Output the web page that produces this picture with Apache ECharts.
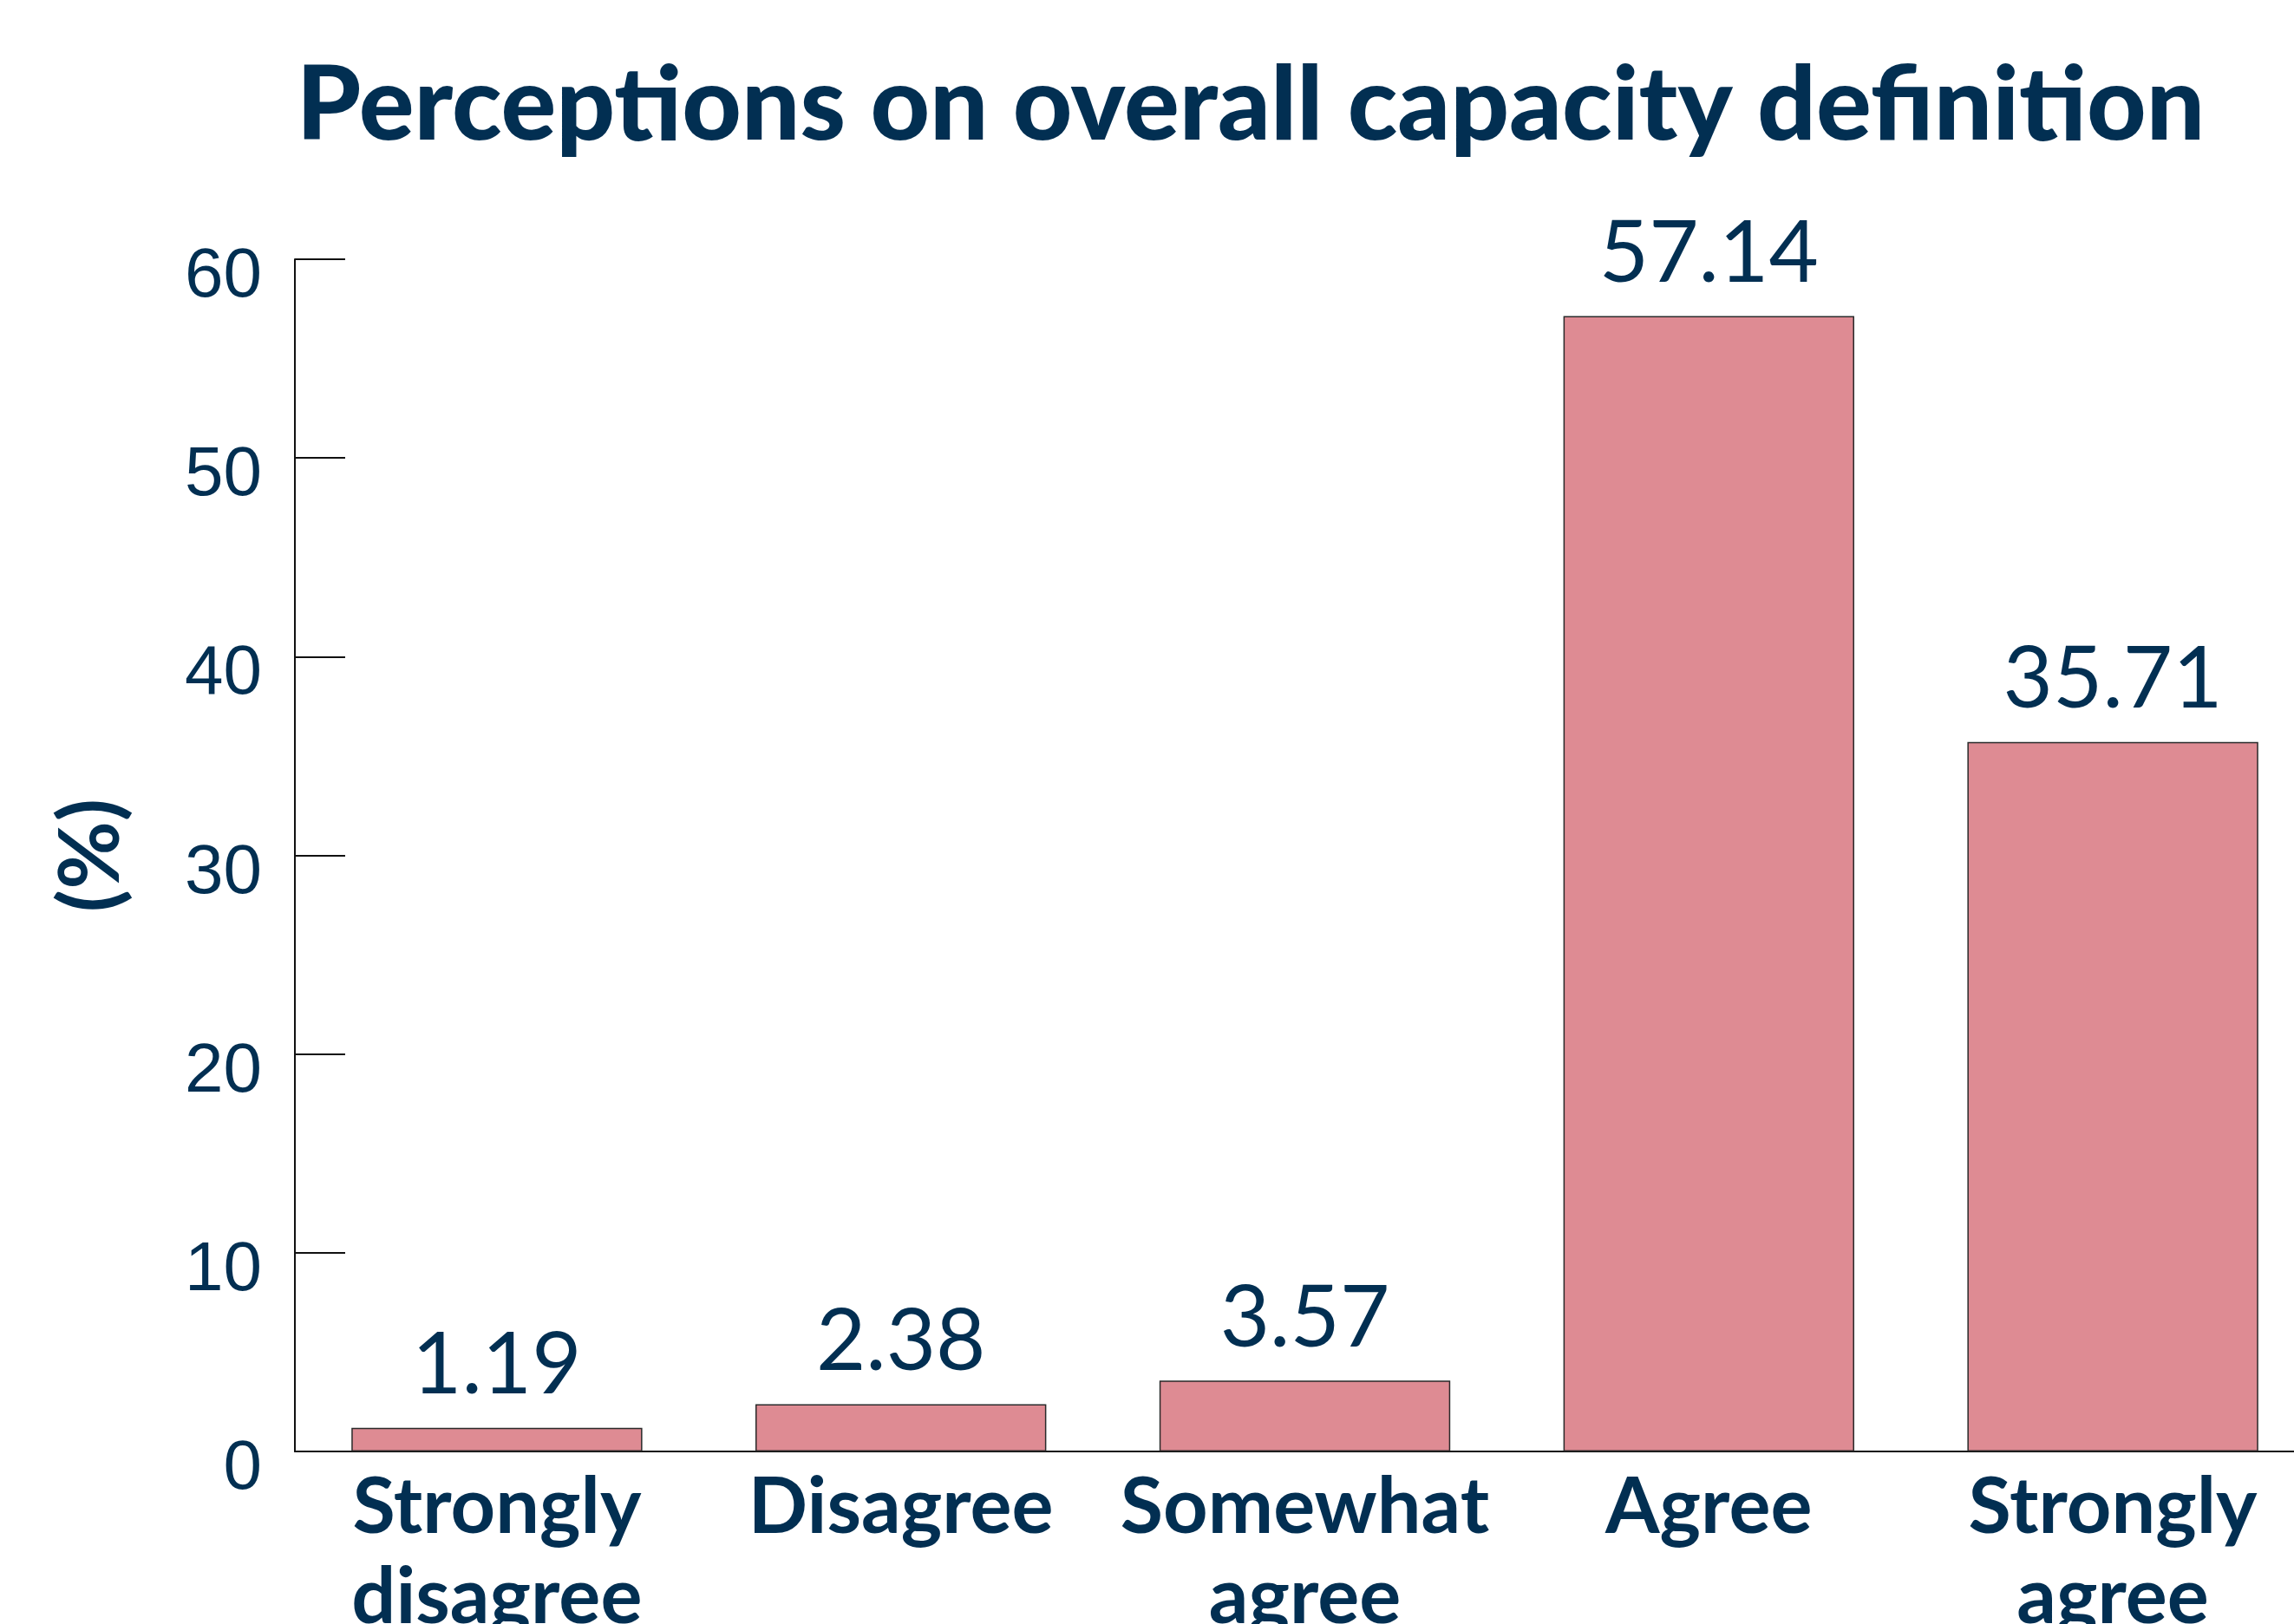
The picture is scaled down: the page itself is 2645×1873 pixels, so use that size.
<!DOCTYPE html>
<html>
<head>
<meta charset="utf-8">
<script src="https://cdn.jsdelivr.net/npm/echarts@6/dist/echarts.min.js"></script>
<style>
  html, body { margin: 0; padding: 0; background: #fff; }
  #main { width: 2645px; height: 1873px; }
</style>
</head>
<body>
<div id="main"></div>
<script>
// data
const categories = ["Strongly disagree", "Disagree", "Somewhat agree", "Agree", "Strongly agree"];
const values = [1.19, 2.38, 3.57, 57.14, 35.71];
const yTicks = [0, 10, 20, 30, 40, 50, 60];

const navy = "#022f52";

const chart = echarts.init(document.getElementById("main"));
const option = {
  backgroundColor: "#ffffff",
  animation: false,
  title: {
    text: "Perceptions on overall capacity definition",
    left: 1437,
    top: 58,
    textAlign: "center",
    textStyle: {
      color: navy,
      fontFamily: "Lato",
      fontWeight: 900,
      fontSize: 119
    }
  },
  grid: {
    left: 340,
    right: -24,
    top: 299,
    bottom: 199,
    outerBoundsMode: "none"
  },
  xAxis: {
    type: "category",
    data: categories,
    axisLine: { lineStyle: { color: "#111", width: 2 } },
    axisTick: { inside: true, length: 34, lineStyle: { color: "#111", width: 2 } },
    axisLabel: {
      margin: 13,
      color: navy,
      fontFamily: "Lato",
      fontWeight: "bold",
      fontSize: 90,
      lineHeight: 104,
      interval: 0,
      // 两个词的类别拆成两行
      formatter: v => v.replace(" ", "\n")
    }
  },
  yAxis: {
    type: "value",
    min: yTicks[0],
    max: yTicks[yTicks.length - 1],
    interval: yTicks[1] - yTicks[0],
    name: "(%)",
    nameLocation: "middle",
    nameRotate: 90,
    nameGap: 186,
    nameTextStyle: {
      color: navy,
      fontFamily: "Lato",
      fontWeight: "bold",
      fontSize: 96
    },
    axisLine: { show: true, lineStyle: { color: "#111", width: 2 } },
    axisTick: { show: true, inside: true, length: 58, lineStyle: { color: "#111", width: 2 } },
    splitLine: { show: false },
    axisLabel: {
      margin: 38,
      color: navy,
      fontFamily: "Liberation Sans",
      fontSize: 80,
      // 刻度文字比刻度线略低
      verticalAlign: "top",
      lineHeight: 42
    }
  },
  series: [{
    type: "bar",
    data: values,
    barCategoryGap: "28%",
    itemStyle: {
      color: "#de8b93",
      borderColor: "#2a2a2a",
      borderWidth: 1.5
    },
    label: {
      show: true,
      position: "top",
      distance: 22,
      color: navy,
      fontFamily: "Lato",
      fontSize: 99,
      formatter: p => p.value.toFixed(2)
    }
  }]
};
chart.setOption(option);
</script>
</body>
</html>
